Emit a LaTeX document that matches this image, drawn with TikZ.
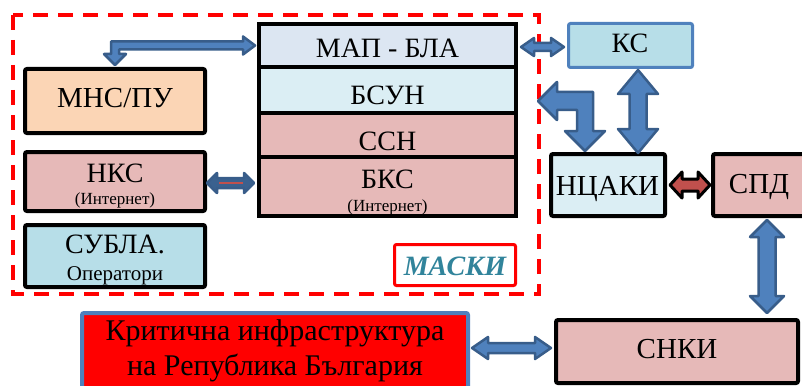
\documentclass[tikz,border=0pt]{standalone}
\usepackage{fontspec}
\setmainfont{Liberation Serif}
\newfontfamily\tnr{Liberation Serif}
\usetikzlibrary{calc}
\definecolor{peach}{HTML}{FBD5B5}
\definecolor{rose}{HTML}{E6B9B8}
\definecolor{pale}{HTML}{DCE6F2}
\definecolor{cyanl}{HTML}{DBEEF4}
\definecolor{aqua}{HTML}{B7DEE8}
\definecolor{ablue}{HTML}{4F81BD}
\definecolor{adark}{HTML}{385D8A}
\definecolor{ared}{HTML}{C0504D}
\definecolor{tealc}{HTML}{31849B}
\newcommand\fsz[1]{\tnr\fontsize{#1}{#1}\selectfont}
\newcommand\hdarrow[7][]{%
\filldraw[barrow,#1] let \p1=#2, \p2=#3 in (\x1,\y1) -- (\x1+#6pt,\y1+#5pt) -- (\x1+#6pt,\y1+#4pt) -- (\x2-#7pt,\y1+#4pt) -- (\x2-#7pt,\y1+#5pt) -- (\x2,\y1) -- (\x2-#7pt,\y1-#5pt) -- (\x2-#7pt,\y1-#4pt) -- (\x1+#6pt,\y1-#4pt) -- (\x1+#6pt,\y1-#5pt) -- cycle;}
\newcommand\vdarrow[6][]{%
\filldraw[barrow,#1] let \p1=#2, \p2=#3 in (\x1,\y1) -- (\x1+#5pt,\y1-#6pt) -- (\x1+#4pt,\y1-#6pt) -- (\x1+#4pt,\y2+#6pt) -- (\x1+#5pt,\y2+#6pt) -- (\x1,\y2) -- (\x1-#5pt,\y2+#6pt) -- (\x1-#4pt,\y2+#6pt) -- (\x1-#4pt,\y1-#6pt) -- (\x1-#5pt,\y1-#6pt) -- cycle;}
\tikzset{
  box/.style={draw=black, line width=4pt, rounded corners=2pt, inner sep=0pt},
  sbox/.style={draw=black, line width=4pt, inner sep=0pt, minimum width=257pt},
  txt/.style={inner sep=0pt, anchor=base, text=black},
  barrow/.style={fill=ablue, draw=adark, line width=2.5pt, line join=round},
}
\begin{document}
\begin{tikzpicture}[x=1pt,y=-1pt]
\useasboundingbox (0,0) rectangle (802,385);
% frame
\draw[red, line width=4pt, dash pattern=on 15pt off 10pt] (13,15) rectangle (539,294);
% left boxes
\node[box, fill=peach, minimum width=180pt, minimum height=64pt] (mns) at (115,101) {};
\node[box, fill=rose, minimum width=180pt, minimum height=59pt] (nks) at (115,181.5) {};
\node[box, fill=aqua, minimum width=180pt, minimum height=62pt] (subla) at (115,256) {};
% stack
\node[sbox, fill=pale, minimum height=43pt] (map) at (387.5,45.5) {};
\node[sbox, fill=cyanl, minimum height=46pt] (bsun) at (387.5,90) {};
\node[sbox, fill=rose, minimum height=44pt] (ssn) at (387.5,135) {};
\node[sbox, fill=rose, minimum height=59pt] (bks) at (387.5,186.5) {};
% right boxes
\node[box, draw=ablue, line width=3pt, fill=aqua, minimum width=124pt, minimum height=44pt] (kc) at (630.5,45.5) {};
\node[box, fill=cyanl, minimum width=114pt, minimum height=62pt] (ncaki) at (608,185) {};
\node[box, fill=rose, minimum width=94pt, minimum height=62pt] (spd) at (760,185) {};
\node[box, fill=rose, minimum width=242pt, minimum height=63pt] (snki) at (677,351.5) {};
\node[box, draw=ablue, fill=red, minimum width=386pt, minimum height=82pt] (krit) at (275,354) {};
\node[box, draw=red, line width=3pt, fill=white, minimum width=121pt, minimum height=41pt] (maski) at (455,265) {};
% texts
\node[txt, font=\fsz{29}] (tmns) at (115,108) {МНС/ПУ};
\node[txt, font=\fsz{28}] (tnks) at (115,182) {НКС};
\node[txt, font=\fsz{17}] (tnks2) at (115,204) {(Интернет)};
\node[txt, font=\fsz{28}] (tsub) at (115,253) {СУБЛА.};
\node[txt, font=\fsz{21}] (tsub2) at (115,280) {Оператори};
\node[txt, font=\fsz{28}] (tmap) at (387.5,58) {МАП - БЛА};
\node[txt, font=\fsz{28}] (tbsun) at (387.5,105) {БСУН};
\node[txt, font=\fsz{28}] (tssn) at (387.5,150) {ССН};
\node[txt, font=\fsz{28}] (tbks) at (387.5,188) {БКС};
\node[txt, font=\fsz{17}] (tbks2) at (387.5,211) {(Интернет)};
\node[txt, font=\fsz{28}] (tkc) at (630,53) {КС};
\node[txt, font=\fsz{29}] (tnc) at (607.5,195) {НЦАКИ};
\node[txt, font=\fsz{29}] (tspd) at (759,193) {СПД};
\node[txt, font=\fsz{29}] (tsnki) at (677,358) {СНКИ};
\node[txt, font=\fsz{30}] (tkr1) at (275,340) {Критична инфраструктура};
\node[txt, font=\fsz{30}] (tkr2) at (275,375) {на Република България};
\node[txt, font=\fsz{28}\bfseries\itshape, text=tealc] (tmaski) at (455,275) {МАСКИ};
% arrows
\filldraw[barrow] let \p1=($(mns.north)+(0,-2)$), \p2=($(map.west)+(-2,0)$) in
  (\x1,\y1) -- (\x1-11pt,\y1+11pt) -- (\x1-4pt,\y1+11pt) -- (\x1-4pt,\y2+4pt) -- (\x2-12pt,\y2+4pt) -- (\x2-12pt,\y2+9pt) -- (\x2,\y2) -- (\x2-12pt,\y2-9pt) -- (\x2-12pt,\y2-4pt) -- (\x1+4pt,\y2-4pt) -- (\x1+4pt,\y1+11pt) -- (\x1+11pt,\y1+11pt) -- cycle;
\hdarrow[fill=adark!90!ablue]{($(nks.east)+(0,1.5)$)}{($(bks.west)+(-3,0)$)}{5}{10}{10}{10}
\draw[ared, line width=1.5pt] let \p1=($(nks.east)+(0,1.5)$), \p2=(bks.west) in (\x1+12pt,\y1) -- (\x2-14pt,\y1);
\hdarrow{($(map.east)+(3,1.5)$)}{($(kc.west)+(-3,0)$)}{4}{9}{13}{13}
\coordinate (btip) at (538,101);
\filldraw[barrow] let \p1=($(ncaki.north)+(-23,-1)$), \p2=(btip) in
  (\x1,\y1) -- (\x1-20pt,\y1+20pt) -- (\x1-8pt,\y1+20pt) -- (\x1-8pt,\y2-9pt) -- (\x2+19pt,\y2-9pt) -- (\x2+19pt,\y2-19pt) -- (\x2,\y2) -- (\x2+19pt,\y2+19pt) -- (\x2+19pt,\y2+9pt) -- (\x1+8pt,\y2+9pt) -- (\x1+8pt,\y1+20pt) -- (\x1+20pt,\y1+20pt) -- cycle;
\vdarrow{($(kc.south)+(7.5,1)$)}{($(ncaki.north)+(0,1)$)}{8.5}{20}{24}
\hdarrow[fill=ared, draw=black, line width=3pt]{($(ncaki.east)+(3,0)$)}{($(spd.west)+(-1,0)$)}{6}{13}{12}{12}
\vdarrow{($(spd.south)+(7,2)$)}{($(snki.north)+(0,-5)$)}{8.5}{17}{17}
\hdarrow{($(krit.east)+(2,-6)$)}{($(snki.west)+(-3,0)$)}{5}{11}{16}{16}
\end{tikzpicture}
\end{document}
